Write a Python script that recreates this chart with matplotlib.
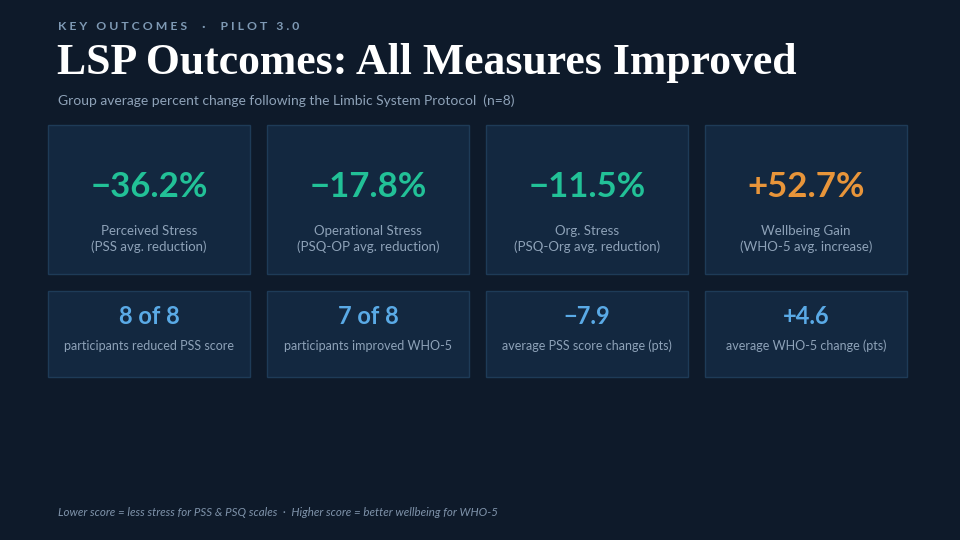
import matplotlib
matplotlib.use("Agg")
import matplotlib.pyplot as plt
from matplotlib.patches import Rectangle

top_values = ["\u221236.2%", "\u221217.8%", "\u221211.5%", "+52.7%"]
top_labels = ["Perceived Stress\n(PSS avg. reduction)", "Operational Stress\n(PSQ-OP avg. reduction)",
              "Org. Stress\n(PSQ-Org avg. reduction)", "Wellbeing Gain\n(WHO-5 avg. increase)"]
top_colors = ["#22c197", "#22c197", "#22c197", "#e8953a"]
bottom_values = ["8 of 8", "7 of 8", "\u22127.9", "+4.6"]
bottom_labels = ["participants reduced PSS score", "participants improved WHO-5",
                 "average PSS score change (pts)", "average WHO-5 change (pts)"]

BG = "#0e1a2a"; CARD = "#132840"; EDGE = "#1e3b57"; GREY = "#8ea2b8"
fig = plt.figure(figsize=(9.6, 5.4), dpi=100, facecolor=BG)
ax = fig.add_axes([0, 0, 1, 1]); ax.set_xlim(0, 960); ax.set_ylim(540, 0); ax.axis("off")
ax.set_facecolor(BG)
SANS = ["Lato", "DejaVu Sans"]

ax.text(58, 26, "K E Y   O U T C O M E S     \u00b7     P I L O T   3 . 0", color="#7f9ab5",
        fontsize=8.8, fontweight="bold", family=SANS, va="center")
ax.text(57, 63, "LSP Outcomes: All Measures Improved", color="white", fontsize=31.5,
        fontweight="bold", family=["Liberation Serif", "DejaVu Serif"], va="center")
ax.text(58, 101, "Group average percent change following the Limbic System Protocol  (n=8)",
        color=GREY, fontsize=10, family=SANS, va="center")

xs = [48, 267, 486, 705]; w = 202
for i, x in enumerate(xs):
    ax.add_patch(Rectangle((x, 125), w, 149, facecolor=CARD, edgecolor=EDGE, lw=1))
    ax.text(x + w/2, 187, top_values[i], color=top_colors[i], fontsize=25, fontweight="bold",
            family=SANS, ha="center", va="center")
    ax.text(x + w/2, 239, top_labels[i], color=GREY, fontsize=9.5, family=SANS,
            ha="center", va="center", linespacing=1.3)
    ax.add_patch(Rectangle((x, 291), w, 86, facecolor=CARD, edgecolor=EDGE, lw=1))
    ax.text(x + w/2, 316, bottom_values[i], color="#5aaae6", fontsize=17, fontweight="bold",
            family=SANS, ha="center", va="center")
    ax.text(x + w/2, 346, bottom_labels[i], color=GREY, fontsize=9, family=SANS,
            ha="center", va="center")

ax.text(58, 513, "Lower score = less stress for PSS & PSQ scales  \u00b7  Higher score = better wellbeing for WHO-5",
        color="#7f93aa", fontsize=8.3, style="italic", family=SANS, va="center")
fig.savefig("out.png", dpi=100, facecolor=BG)
